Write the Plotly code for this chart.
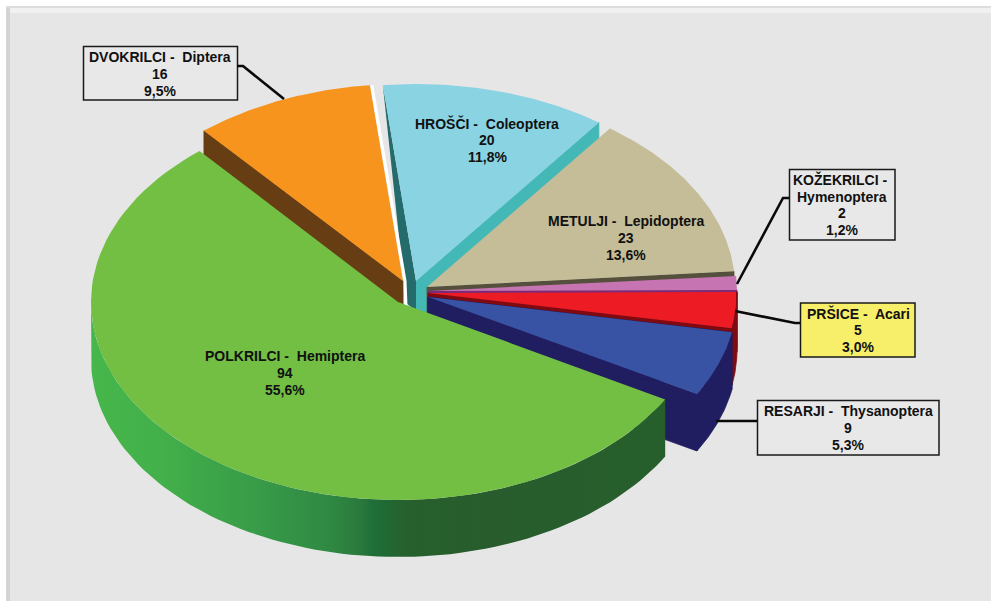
import numpy as np
import plotly.graph_objects as go

# ---- data (clockwise from the large slice) ----
groups = ["POLKRILCI", "DVOKRILCI", "HROŠČI", "METULJI", "KOŽEKRILCI", "PRŠICE", "RESARJI"]
latin = ["Hemiptera", "Diptera", "Coleoptera", "Lepidoptera", "Hymenoptera", "Acari", "Thysanoptera"]
counts = [94, 16, 20, 23, 2, 5, 9]
percents = ["55,6%", "9,5%", "11,8%", "13,6%", "1,2%", "3,0%", "5,3%"]

# ---- styling and pseudo-3D projection ----
top_colors = ["#72bf44", "#f7941d", "#89d3e3", "#c4bd97", "#c774b2", "#ed1c24", "#3953a4"]
side_colors = ["#285c2c", "#673d14", "#44b8b6", "#554f3e", "#7d2a78", "#7f0a10", "#211d61"]
apex_x = [398, 403, 416, 427, 429, 428, 428]
apex_y = [302, 281, 281, 287, 291, 293, 297]
radius_x = [307, 308, 308, 308, 308, 309, 309]
radius_y = [198, 197, 197, 197, 197, 197, 197]
START_ANGLE = 119.5
DEPTH = 57
TEXT = "#111111"
FONT = "Liberation Sans"
LINE_STEP = 16.7

total = sum(counts)
edges = START_ANGLE + np.concatenate([[0], np.cumsum(counts)]) * 360 / total


def arc(i, a0=None, a1=None):
    a0 = edges[i] if a0 is None else a0
    a1 = edges[i + 1] if a1 is None else a1
    t = np.radians(np.linspace(a0, a1, 90))
    return apex_x[i] + radius_x[i] * np.sin(t), apex_y[i] - radius_y[i] * np.cos(t)


fig = go.Figure()


def poly(x, y, color, edge=0, **kw):
    fig.add_trace(go.Scatter(x=list(x), y=list(y), mode="lines", fill="toself", fillcolor=color,
                             line=dict(width=edge, color=color), hoverinfo="skip", showlegend=False, **kw))


def top(i):
    ax, ay = arc(i)
    poly(np.r_[apex_x[i], ax, apex_x[i]], np.r_[apex_y[i], ay, apex_y[i]], top_colors[i])


def cut_face(i, which, depth=DEPTH):
    ax, ay = arc(i)
    k = 0 if which == "start" else -1
    poly([apex_x[i], ax[k], ax[k], apex_x[i], apex_x[i]],
         [apex_y[i], ay[k], ay[k] + depth, apex_y[i] + depth, apex_y[i]], side_colors[i], edge=0.8)


def rim(i, a0=None, a1=None, edge=0.8, **kw):
    ax, ay = arc(i, a0, a1)
    poly(np.r_[ax, ax[::-1], ax[0]], np.r_[ay, ay[::-1] + DEPTH, ay[0]], kw.pop("color", side_colors[i]),
         edge=edge, **kw)


# beetles: two cut faces, seen as if from inside the gap
H = 2
cut_face(H, "end")
hx, hy = arc(H)
poly([hx[0], apex_x[H], apex_x[H], apex_x[H] - 10, hx[0]],
     [hy[0], apex_y[H], apex_y[H] + 30, apex_y[H] + 22, hy[0]], "#256b6c")
top(H)

# flies, with the thin white seam along their right edge
D = 1
cut_face(D, "start")
top(D)
dx, dy = arc(D)
fig.add_trace(go.Scatter(x=[dx[-1] + 2, apex_x[D] + 2, apex_x[D] + 3], y=[dy[-1], apex_y[D], apex_y[D] + 25],
                         mode="lines", line=dict(color="#ffffff", width=3), hoverinfo="skip", showlegend=False))

# moths, wasps, mites, thrips: stacked front to back
for i in (3, 4, 5):
    cut_face(i, "end")
    top(i)
rim(5)
R = 6
rim(R)
cut_face(R, "end")
cut_face(R, "start")
top(R)
rim(5, a0=edges[5], a1=edges[5] + 1)

# the large slice in front, with its shaded rim
G = 0
rim(G, a0=edges[G], a1=270, edge=0,
    color="#285c2c",
    fillgradient=dict(type="horizontal", start=91, stop=665, colorscale=[
        [0.0, "#46b74b"], [0.12, "#43b04a"], [0.30, "#379a48"], [0.42, "#2f8842"],
        [0.47, "#2a783c"], [0.49, "#1e6f39"], [0.55, "#26602d"], [0.70, "#285c2c"], [1.0, "#265f2c"]]))
top(G)


def add_label(i, text_x, text_y, box=None, box_color=None, leader=None, split=False):
    if split:
        lines = [f"{groups[i]} - ", latin[i], str(counts[i]), percents[i]]
    else:
        lines = [f"{groups[i]} -  {latin[i]}", str(counts[i]), percents[i]]
    for j, line in enumerate(lines):
        fig.add_annotation(x=text_x, y=text_y + (j - (len(lines) - 1) / 2) * LINE_STEP, xref="x", yref="y",
                           text=line.replace("  ", "\u00a0 "), showarrow=False,
                           xanchor="center", yanchor="middle", align="center",
                           font=dict(family=FONT, size=14, color=TEXT, weight="bold"))
    if box is not None:
        fig.add_shape(type="rect", x0=box[0], y0=box[1], x1=box[2], y1=box[3], xref="x", yref="y",
                      fillcolor=box_color, line=dict(color="#1a1a1a", width=1.5), layer="above")
        path = "M " + " L ".join(f"{a},{b}" for a, b in leader)
        fig.add_shape(type="path", path=path, xref="x", yref="y", line=dict(color="#0a0a0a", width=2.6), layer="above")


BOX = "#e8e8e8"
add_label(0, 285, 373)
add_label(2, 487, 140)
add_label(3, 626, 238)
add_label(1, 160, 74, (83.5, 46.5, 237.5, 100), BOX, [(237, 66), (243, 66), (284, 99)])
add_label(4, 842, 205, (789.5, 169.5, 895, 240), BOX, [(789, 198), (783, 198), (737, 284)], split=True)
add_label(5, 858, 330, (800.5, 303, 915, 357), "#f7ef6a", [(800, 323), (795, 323), (735, 311)])
add_label(6, 848, 428, (757.5, 400.5, 939, 455), BOX, [(757, 421), (716, 421)])

W, H_PAGE = 991, 601
background = [
    dict(type="rect", x0=6, y0=6, x1=W, y1=H_PAGE, fillcolor="#e6e6e6", line_width=0, layer="below"),
    dict(type="rect", x0=6, y0=6, x1=10, y1=H_PAGE, fillcolor="#d4d4d4", line_width=0, layer="below"),
    dict(type="rect", x0=6, y0=6, x1=W, y1=8, fillcolor="#dddddd", line_width=0, layer="below"),
    dict(type="rect", x0=10, y0=8, x1=W, y1=13, fillcolor="#f1f1f1", line_width=0, layer="below"),
]
for s in background:
    fig.add_shape(**s)

fig.update_layout(
    width=W, height=H_PAGE, autosize=False,
    margin=dict(l=0, r=0, t=0, b=0),
    paper_bgcolor="#ffffff", plot_bgcolor="rgba(0,0,0,0)",
    xaxis=dict(range=[0, W], visible=False, fixedrange=True),
    yaxis=dict(range=[H_PAGE, 0], visible=False, fixedrange=True),
    showlegend=False,
)
fig.write_html("out.html", config=dict(displayModeBar=False),
               post_script="document.body.style.margin='0';document.body.style.overflow='hidden';")
